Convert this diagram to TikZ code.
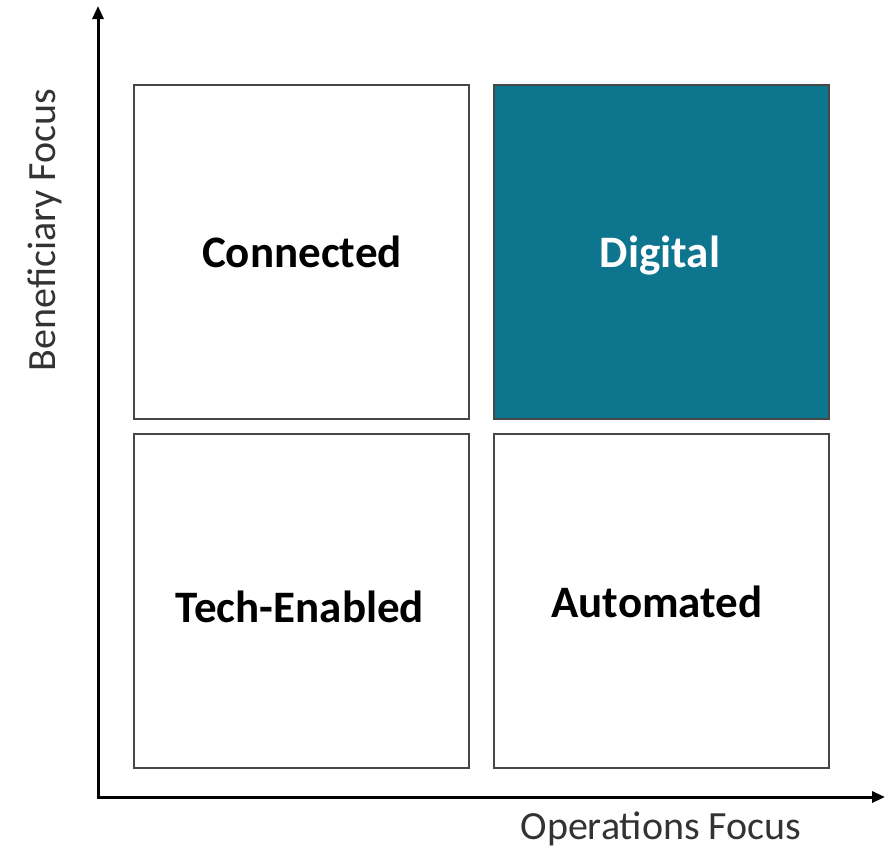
\documentclass[tikz,border=0pt]{standalone}
\usepackage{fontspec}
\setmainfont{Carlito}
\usetikzlibrary{arrows.meta}
\definecolor{digiteal}{RGB}{14,117,143}
\begin{document}
\begin{tikzpicture}[x=1pt,y=-1pt,
  quad/.style={draw=black!72,line width=2pt,minimum width=335pt,minimum height=334pt,inner sep=0pt},
  quadlabel/.style={anchor=base,font=\fontsize{45}{50}\selectfont\bfseries},
  axislabel/.style={anchor=base,font=\fontsize{40}{44}\selectfont,text=black!80},
  axisline/.style={line width=3pt,-{Triangle[length=13pt,width=11pt]}}]
\useasboundingbox (0,0) rectangle (894,849);
\fill[white] (0,0) rectangle (894,849);
% quadrants
\node[quad] (tl) at (301.5,252) {};
\node[quad,fill=digiteal] (tr) at (661,252) {};
\node[quad] (bl) at (301.5,600.5) {};
\node[quad] (br) at (661,600.5) {};
% labels
\node[quadlabel] (lconn) at (302,267) {Connected};
\node[quadlabel,text=white] (ldig) at (660,267) {Digital};
\node[quadlabel] (ltech) at (300,622) {Tech-Enabled};
\node[quadlabel] (lauto) at (657,617) {Automated};
% axes
\coordinate (origin) at (98,797);
\coordinate (ytip) at (98,6);
\coordinate (xtip) at (885,797);
\draw[axisline] ([yshift=-1.5pt]origin) -- (ytip);
\draw[axisline] ([xshift=-1.5pt]origin) -- (xtip);
\node[axislabel,rotate=90] (ylab) at (55,230) {Beneficiary Focus};
\node[axislabel] (xlab) at (661,839) {Operations Focus};
\end{tikzpicture}
\end{document}
